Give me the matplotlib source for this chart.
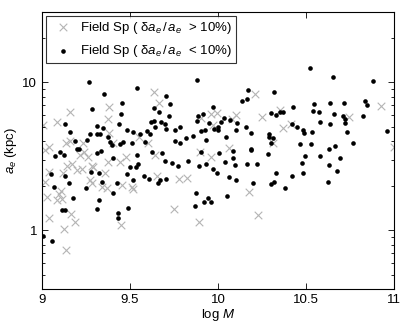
import numpy as np
import matplotlib.pyplot as plt
from matplotlib.ticker import FixedLocator, FixedFormatter, NullFormatter, LogLocator

plt.rcParams['font.family'] = ['Liberation Sans', 'DejaVu Sans']
plt.rcParams['mathtext.fontset'] = 'custom'
plt.rcParams['mathtext.rm'] = 'Liberation Sans'
plt.rcParams['mathtext.it'] = 'Liberation Sans:italic'

# Field Sp, delta a_e / a_e < 10%  (log M, a_e in kpc)
logm_good = [9.269, 9.282, 9.352, 9.453, 9.447, 9.540, 9.882, 9.131, 9.161, 9.186,
             9.254, 9.273, 9.311, 9.311, 9.330, 9.348, 9.377, 9.386, 9.438, 9.459,
             9.483, 9.515, 9.511, 9.557, 9.587, 9.598, 9.614, 9.621, 9.636, 9.642,
             9.636, 9.663, 9.674, 9.705, 9.727, 9.723, 9.701, 9.705, 9.757, 9.754,
             9.784, 9.784, 9.816, 9.860, 9.885, 9.882, 9.913, 9.905, 9.926, 9.930,
             9.947, 9.973, 9.977, 10.000, 10.523, 10.655, 10.881, 10.169, 10.318, 10.136,
             10.163, 10.426, 10.544, 10.636, 10.716, 10.834, 10.845, 10.301, 10.328, 10.352,
             10.368, 10.540, 10.576, 10.661, 10.712, 10.722, 10.720, 10.822, 10.036, 10.066,
             10.017, 10.106, 9.998, 10.104, 10.159, 10.188, 10.422, 10.449, 10.485, 10.490,
             10.532, 10.581, 10.636, 10.733, 10.044, 10.290, 10.290, 10.314, 10.301, 10.464,
             10.528, 10.765, 10.666, 10.631, 10.186, 10.962, 9.396, 9.443, 9.197, 9.212,
             9.076, 9.102, 9.127, 9.314, 9.334, 9.402, 9.541, 9.623, 9.682, 9.699,
             9.737, 9.771, 9.831, 9.894, 9.905, 9.932, 9.970, 9.993, 10.007, 9.049,
             9.131, 9.152, 9.068, 9.277, 9.324, 9.339, 9.250, 9.403, 9.428, 9.485,
             9.500, 9.534, 9.544, 9.515, 9.580, 9.610, 9.661, 9.670, 9.705, 9.875,
             9.868, 9.922, 9.945, 9.959, 9.174, 9.322, 9.114, 9.132, 9.311, 9.432,
             9.430, 9.490, 10.087, 10.084, 10.038, 10.097, 10.186, 10.165, 10.223, 10.286,
             10.494, 10.581, 10.695, 10.477, 10.632, 10.063, 10.104, 10.199, 10.331, 10.320,
             10.301, 10.422, 10.381, 10.485, 10.676, 10.627, 10.051, 9.004, 9.057]
ae_good = [10.1, 6.6, 8.3, 7.3, 6.1, 9.2, 10.4, 5.25, 4.6, 4.0,
           4.1, 4.5, 5.1, 4.5, 4.5, 4.9, 4.24, 3.95, 5.2, 3.96,
           4.8, 4.6, 3.9, 4.45, 3.95, 4.7, 4.5, 5.4, 5.5, 5.0,
           6.7, 6.3, 5.4, 8.1, 7.1, 5.9, 5.25, 4.85, 4.8, 4.0,
           5.0, 3.92, 4.2, 4.36, 5.95, 5.45, 6.07, 4.66, 4.8, 4.05,
           5.3, 6.8, 4.85, 5.03, 12.6, 10.9, 10.3, 8.9, 8.65, 7.5,
           7.67, 6.78, 7.17, 7.25, 7.3, 7.5, 6.98, 6.17, 5.98, 6.3,
           6.3, 6.43, 6.3, 6.14, 5.95, 5.65, 5.3, 5.93, 5.74, 5.58,
           5.42, 5.3, 4.73, 4.78, 5.03, 4.56, 5.2, 5.03, 4.73, 4.54,
           4.6, 5.39, 5.2, 4.6, 4.29, 4.45, 4.27, 4.23, 3.88, 3.86,
           3.86, 3.9, 3.74, 3.57, 3.54, 4.69, 3.79, 3.84, 3.57, 3.54,
           3.19, 3.39, 3.24, 3.32, 3.45, 3.07, 3.22, 3.36, 3.32, 2.96,
           2.85, 2.70, 2.96, 2.73, 3.36, 2.81, 2.60, 2.43, 3.32, 2.40,
           2.31, 2.10, 1.97, 2.47, 2.43, 2.13, 1.94, 1.78, 2.08, 2.40,
           2.67, 2.67, 2.82, 2.17, 2.33, 2.22, 2.10, 2.17, 2.22, 1.78,
           1.45, 1.56, 1.65, 1.56, 1.64, 1.60, 1.36, 1.36, 1.40, 1.30,
           1.20, 1.41, 3.44, 3.07, 2.90, 2.77, 3.50, 2.81, 2.82, 3.29,
           3.20, 3.20, 3.07, 2.86, 2.78, 2.29, 2.17, 2.10, 2.43, 2.13,
           2.04, 2.33, 1.94, 2.45, 2.52, 2.12, 1.70, 0.92, 0.85]

# Field Sp, delta a_e / a_e > 10%
logm_poor = [9.004, 9.087, 9.161, 9.382, 9.375, 9.381, 9.138, 9.041, 9.638, 9.663,
             9.553, 9.601, 9.405, 9.903, 9.960, 9.993, 9.973, 10.210, 10.926, 10.101,
             10.081, 10.252, 10.352, 10.415, 10.371, 10.744, 10.063, 10.311, 11.000, 9.159,
             9.235, 9.019, 9.239, 9.216, 9.263, 9.377, 9.443, 9.477, 9.642, 9.169,
             9.140, 9.201, 9.226, 9.282, 9.290, 9.041, 9.017, 9.121, 9.358, 9.273,
             9.282, 9.341, 9.368, 9.453, 9.510, 9.515, 9.106, 9.084, 9.112, 9.098,
             9.655, 9.780, 9.822, 9.752, 9.163, 9.041, 10.178, 10.226, 9.188, 9.125,
             9.135, 9.447, 9.894, 9.030, 9.898, 9.960]
ae_poor = [5.17, 5.36, 6.27, 6.84, 5.68, 4.58, 3.88, 3.65, 8.56, 7.25,
           4.27, 3.88, 3.92, 5.74, 6.14, 6.17, 5.16, 8.34, 6.95, 6.04,
           5.65, 5.83, 6.46, 5.25, 4.95, 5.83, 3.59, 3.92, 3.65, 4.03,
           3.92, 3.50, 3.36, 3.24, 3.15, 2.89, 2.88, 3.15, 3.24, 2.82,
           2.73, 2.54, 2.59, 2.73, 2.66, 2.49, 2.13, 2.45, 2.43, 2.17,
           2.10, 1.95, 1.92, 2.03, 1.95, 1.90, 1.83, 1.59, 1.62, 1.77,
           2.33, 2.22, 2.25, 1.39, 1.29, 1.21, 1.80, 1.26, 1.14, 1.02,
           0.73, 1.09, 1.13, 1.68, 3.39, 3.14]

fig = plt.figure(figsize=(4.07, 3.22), dpi=100)
ax = fig.add_axes([0.103, 0.1025, 0.865, 0.8605])

ax.scatter(logm_poor, ae_poor, marker='x', s=30, color='#b4b4b4', linewidths=0.8,
           label=r'Field Sp ( δ$a_e\,$/$\,a_e$  > 10%)')
ax.scatter(logm_good, ae_good, marker='o', s=11, color='black', linewidths=0,
           label=r'Field Sp ( δ$a_e\,$/$\,a_e$  < 10%)')

ax.set_yscale('log')
ax.set_xlim(9, 11)
ax.set_ylim(0.4, 30)
ax.set_xticks([9, 9.5, 10, 10.5, 11])
ax.set_xticklabels(['9', '9.5', '10', '10.5', '11'])
ax.yaxis.set_major_locator(FixedLocator([1, 10]))
ax.yaxis.set_major_formatter(FixedFormatter(['1', '10']))
ax.yaxis.set_minor_locator(LogLocator(base=10, subs=np.arange(2, 10)))
ax.yaxis.set_minor_formatter(NullFormatter())

ax.tick_params(which='both', direction='in', top=True, right=True, labelsize=9.5)
ax.tick_params(which='major', length=4, width=0.6)
ax.tick_params(which='minor', length=2, width=0.6)
for sp in ax.spines.values():
    sp.set_linewidth(0.8)

ax.set_xlabel(r'log $M$', fontsize=9.5, labelpad=1)
ax.set_ylabel(r'$a_e$ (kpc)', fontsize=9.5, labelpad=2)

leg = ax.legend(loc='upper left', fontsize=9.5, frameon=True, fancybox=False,
                edgecolor='black', borderaxespad=0.3, handletextpad=0.3,
                borderpad=0.3, labelspacing=0.55, handlelength=2.0)
leg.get_frame().set_linewidth(0.8)

fig.savefig('out.png', dpi=100)
